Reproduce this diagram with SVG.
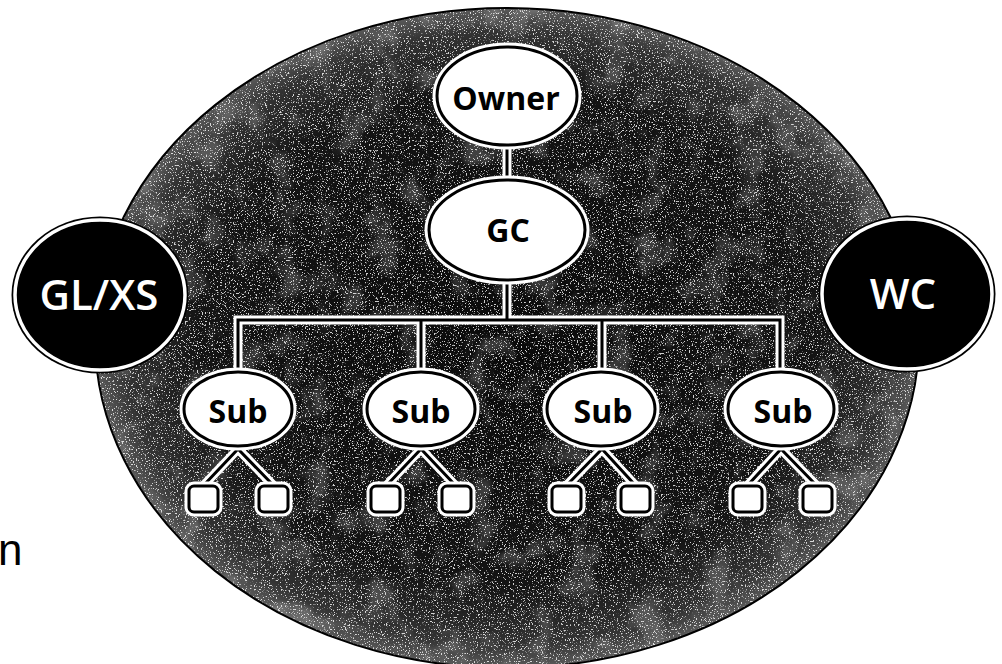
<svg xmlns="http://www.w3.org/2000/svg" width="1002" height="664" viewBox="0 0 1002 664">
  <defs>
    <radialGradient id="fieldShade" cx="0.5" cy="0.5" r="0.5">
      <stop offset="0" stop-color="#0a0a0a"/>
      <stop offset="0.75" stop-color="#141414"/>
      <stop offset="0.93" stop-color="#333333"/>
      <stop offset="1" stop-color="#5a5a5a"/>
    </radialGradient>
    <!-- fine white speckles -->
    <filter id="grain" x="0" y="0" width="1002" height="664" filterUnits="userSpaceOnUse">
      <feTurbulence type="fractalNoise" baseFrequency="0.75" numOctaves="2" seed="7" result="n"/>
      <feColorMatrix in="n" type="matrix" values="0 0 0 0 1  0 0 0 0 1  0 0 0 0 1  11 0 0 0 -6.6"/>
    </filter>
    <!-- soft grey blotches -->
    <filter id="mottle" x="0" y="0" width="1002" height="664" filterUnits="userSpaceOnUse">
      <feTurbulence type="fractalNoise" baseFrequency="0.03" numOctaves="3" seed="4" result="c"/>
      <feColorMatrix in="c" type="matrix" values="0 0 0 0 0.75  0 0 0 0 0.75  0 0 0 0 0.75  4 0 0 0 -2.1"/>
    </filter>
    <clipPath id="fieldClip">
      <ellipse cx="507" cy="338" rx="412" ry="330"/>
    </clipPath>
  </defs>
  <style>
    .halo { fill: none; stroke: #ffffff; stroke-width: 9; stroke-linecap: butt; }
    .core { fill: none; stroke: #000000; stroke-width: 3; stroke-linecap: butt; }
    .node-ring { fill: none; stroke: #ffffff; stroke-width: 9; }
    .node { fill: #ffffff; stroke: #000000; stroke-width: 3; }
    .label { font-family: "Open Sans", "DejaVu Sans", sans-serif; font-weight: bold; font-size: 32px; fill: #000000; text-anchor: middle; }
    .party { fill: #000000; stroke: #ffffff; stroke-width: 3.5; }
    .party-edge { fill: #000000; }
    .party-label { font-family: "Open Sans", "DejaVu Sans", sans-serif; font-weight: 600; font-size: 42px; fill: #ffffff; text-anchor: middle; }
  </style>

  <rect width="1002" height="664" fill="#ffffff"/>

  <!-- project field -->
  <g id="field">
    <ellipse cx="507" cy="338" rx="412" ry="330" fill="url(#fieldShade)"/>
    <g clip-path="url(#fieldClip)">
      <rect x="90" y="0" width="830" height="664" filter="url(#mottle)" opacity="0.22"/>
      <rect x="90" y="0" width="830" height="664" filter="url(#grain)" opacity="0.8"/>
    </g>
    <ellipse cx="507" cy="338" rx="412" ry="330" fill="none" stroke="#000000" stroke-width="2"/>
  </g>

  <!-- connectors -->
  <g id="connectors">
    <g class="halo">
      <path d="M507 146 V180"/>
      <path d="M507 281 V320 M238 372 V320 H780 V372 M421 320 V372 M602 320 V372"/>
      <path d="M238 449 L203 486 M238 449 L274 486"/>
      <path d="M421 449 L386 486 M421 449 L456 486"/>
      <path d="M602 449 L566 486 M602 449 L636 486"/>
      <path d="M781 449 L747 486 M781 449 L817 486"/>
    </g>
    <g class="core">
      <path d="M507 146 V180"/>
      <path d="M507 281 V320 M238 372 V320 H780 V372 M421 320 V372 M602 320 V372"/>
      <path d="M238 449 L203 486 M238 449 L274 486"/>
      <path d="M421 449 L386 486 M421 449 L456 486"/>
      <path d="M602 449 L566 486 M602 449 L636 486"/>
      <path d="M781 449 L747 486 M781 449 L817 486"/>
    </g>
  </g>

  <!-- outside parties -->
  <g id="gl-xs">
    <ellipse class="party-edge" cx="100" cy="295" rx="88.5" ry="78.5"/>
    <ellipse class="party" cx="100" cy="295" rx="85" ry="75"/>
    <text class="party-label" x="99" y="310">GL/XS</text>
  </g>
  <g id="wc">
    <ellipse class="party-edge" cx="907" cy="294" rx="88.5" ry="78.5"/>
    <ellipse class="party" cx="907" cy="294" rx="85" ry="75"/>
    <text class="party-label" x="903" y="309">WC</text>
  </g>

  <!-- hierarchy nodes -->
  <g id="owner">
    <ellipse class="node-ring" cx="507" cy="96" rx="70" ry="49"/>
    <ellipse class="node" cx="507" cy="96" rx="70" ry="49"/>
    <text class="label" x="506" y="110">Owner</text>
  </g>
  <g id="gc">
    <ellipse class="node-ring" cx="507" cy="230" rx="78" ry="50"/>
    <ellipse class="node" cx="507" cy="230" rx="78" ry="50"/>
    <text class="label" x="508" y="242">GC</text>
  </g>
  <g id="sub-1">
    <ellipse class="node-ring" cx="238" cy="409" rx="54" ry="37"/>
    <ellipse class="node" cx="238" cy="409" rx="54" ry="37"/>
    <text class="label" x="238" y="423">Sub</text>
  </g>
  <g id="sub-2">
    <ellipse class="node-ring" cx="421" cy="409" rx="54" ry="37"/>
    <ellipse class="node" cx="421" cy="409" rx="54" ry="37"/>
    <text class="label" x="421" y="423">Sub</text>
  </g>
  <g id="sub-3">
    <ellipse class="node-ring" cx="601" cy="409" rx="54" ry="37"/>
    <ellipse class="node" cx="601" cy="409" rx="54" ry="37"/>
    <text class="label" x="603" y="423">Sub</text>
  </g>
  <g id="sub-4">
    <ellipse class="node-ring" cx="781" cy="409" rx="53" ry="37"/>
    <ellipse class="node" cx="781" cy="409" rx="53" ry="37"/>
    <text class="label" x="783" y="423">Sub</text>
  </g>

  <!-- crews under each sub -->
  <g id="crew-1a"><rect class="node-ring" x="189" y="486" width="29" height="26" rx="5"/><rect class="node" x="189" y="486" width="29" height="26" rx="5"/></g>
  <g id="crew-1b"><rect class="node-ring" x="259" y="486" width="29" height="26" rx="5"/><rect class="node" x="259" y="486" width="29" height="26" rx="5"/></g>
  <g id="crew-2a"><rect class="node-ring" x="371" y="486" width="29" height="26" rx="5"/><rect class="node" x="371" y="486" width="29" height="26" rx="5"/></g>
  <g id="crew-2b"><rect class="node-ring" x="442" y="486" width="29" height="26" rx="5"/><rect class="node" x="442" y="486" width="29" height="26" rx="5"/></g>
  <g id="crew-3a"><rect class="node-ring" x="552" y="486" width="29" height="26" rx="5"/><rect class="node" x="552" y="486" width="29" height="26" rx="5"/></g>
  <g id="crew-3b"><rect class="node-ring" x="621" y="486" width="29" height="26" rx="5"/><rect class="node" x="621" y="486" width="29" height="26" rx="5"/></g>
  <g id="crew-4a"><rect class="node-ring" x="733" y="486" width="29" height="26" rx="5"/><rect class="node" x="733" y="486" width="29" height="26" rx="5"/></g>
  <g id="crew-4b"><rect class="node-ring" x="803" y="486" width="29" height="26" rx="5"/><rect class="node" x="803" y="486" width="29" height="26" rx="5"/></g>

  <!-- fragment of a side caption -->
  <text x="-2" y="565" font-family="'Liberation Sans', Arial, sans-serif" font-size="44" fill="#000000">n</text>
</svg>
